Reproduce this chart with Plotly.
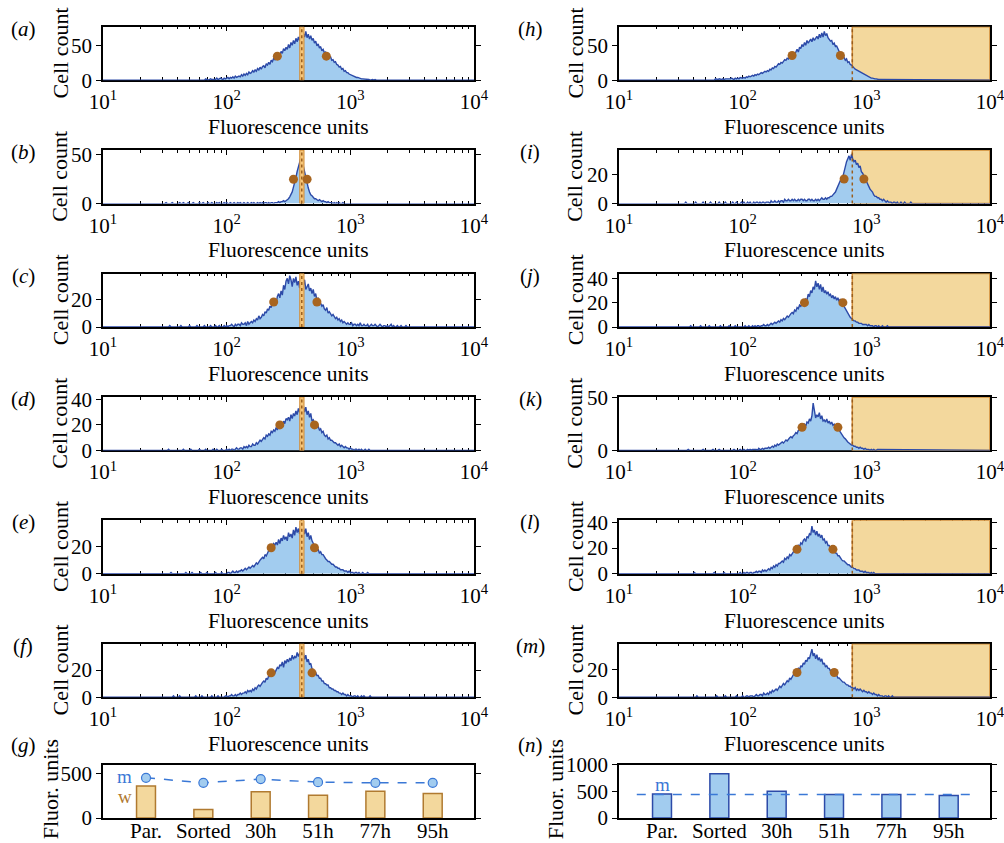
import plotly.graph_objects as go

FONT = "Liberation Serif"
W, H = 1004, 843

# ---------------- data ----------------
HIST_START = 1.5   # log10 of first bin
HIST_STEP = 0.01   # bin width in decades (each row below = 0.1 decade)

hist_a = [0,0,1,0,0,0,1,0,0,0, 1,0,0,1,0,0,0,1,0,1, 0,1,0,0,1,1,0,0,1,0,
          1,1,0,2,1,0,1,2,1,1, 2,1,3,1,2,3,2,1,3,2, 3,4,2,4,3,5,3,6,4,5,
          6,5,8,6,9,7,10,8,12,10, 11,14,12,15,13,17,15,19,16,20,
          21,18,24,22,26,23,29,27,32,30, 35,33,38,36,42,39,46,43,48,45,
          52,47,55,51,58,53,61,56,63,58, 66,60,68,63,71,62,67,60,65,58,
          61,54,57,50,53,47,49,43,45,40, 41,36,38,33,34,29,30,26,27,23,
          22,19,20,16,17,13,14,11,11,9, 8,7,7,5,5,4,4,3,3,2,
          2,2,1,2,1,1,0,1,1,0, 1,0,0,1,0,0,1,0,0,0]
hist_b = [0,1,0,0,0,0,1,0,0,0, 0,0,1,0,0,1,0,0,0,1, 0,0,0,1,0,0,0,0,1,0,
          0,1,0,0,0,1,0,0,1,0, 0,0,1,0,1,0,0,0,1,0, 1,0,0,1,0,0,1,0,0,1,
          0,1,0,0,1,0,0,1,0,0, 1,0,1,0,0,1,0,1,0,1, 0,1,1,0,1,0,1,1,0,1,
          1,1,2,1,2,2,3,2,3,4, 5,7,9,12,17,21,27,33,38,42,
          47,44,38,31,27,22,16,12,9,8, 6,5,5,4,3,4,3,2,3,2,
          2,1,2,1,1,1,0,1,0,1, 0,1,0,0,1,0,0,0,0,0]
hist_c = [0,0,0,0,1,0,0,0,0,0, 0,0,0,1,0,0,0,0,0,0, 1,0,0,0,0,0,1,0,0,0,
          0,0,1,0,0,0,0,1,0,0, 0,1,0,0,1,0,0,0,1,0, 1,0,1,1,2,1,0,2,1,2,
          2,1,3,2,2,3,1,4,2,3, 4,3,5,4,6,5,8,6,7,9,
          8,11,10,13,12,15,14,18,16,20, 17,22,24,21,26,23,30,27,33,35,
          31,37,34,29,35,32,36,30,33,28, 37,33,30,34,27,29,31,26,28,24,
          27,22,24,19,21,18,17,15,16,13, 12,14,10,11,9,8,9,7,6,7,
          5,6,4,5,3,4,3,2,3,2, 2,3,1,2,2,1,2,1,3,1,
          1,2,1,1,2,0,1,2,1,1, 2,1,0,1,2,1,0,1,1,0,
          1,0,1,2,0,1,0,0,1,0, 0,1,0,0,0,1,0,0,0,0]
hist_d = [0,0,0,1,0,0,0,0,0,0, 0,0,0,0,0,1,0,0,0,0, 0,1,0,0,0,0,0,0,1,0,
          0,0,0,1,0,0,0,0,0,1, 0,0,1,0,0,0,1,0,0,0, 1,0,1,0,1,1,0,1,2,1,
          1,2,2,1,3,2,3,2,4,3, 3,5,4,4,6,5,7,8,7,9,
          10,9,12,11,13,12,15,14,16,15, 18,16,20,19,22,18,23,21,25,24,
          26,23,28,25,29,27,31,28,33,30, 37,32,35,30,34,28,31,26,29,23,
          24,21,20,18,19,16,17,14,15,12, 11,12,9,10,8,8,7,6,6,5,
          4,5,3,4,3,2,3,2,2,1, 2,1,1,0,1,1,0,1,0,1,
          0,0,1,0,0,1,0,0,0,0]
hist_e = [0,0,0,0,0,1,0,0,0,0, 0,0,0,0,0,0,0,1,0,0, 0,0,1,0,0,0,0,0,0,1,
          0,0,0,0,1,0,0,0,0,0, 0,1,0,0,0,0,1,0,0,0, 0,1,1,0,1,2,1,1,2,1,
          2,2,3,2,3,4,3,4,5,4, 5,6,5,7,8,7,9,10,11,12,
          11,14,13,15,17,19,18,20,22,21, 23,21,25,22,26,24,28,25,27,24,
          30,27,29,26,32,28,34,30,33,29, 36,32,34,29,33,27,30,25,28,24,
          22,20,19,17,18,15,16,14,14,12, 11,10,9,9,8,7,7,6,5,5,
          4,4,3,3,3,2,2,2,1,2, 1,1,1,0,1,1,0,1,0,0,
          1,0,0,0,1,0,0,0,0,0]
hist_f = [0,0,0,0,0,0,0,1,0,0, 0,0,1,0,0,0,0,0,0,0, 0,0,0,0,0,1,0,0,0,0,
          1,0,0,0,0,0,0,0,1,0, 0,0,0,1,0,0,0,0,0,1, 1,0,1,1,2,1,1,2,1,2,
          2,3,2,3,3,4,3,5,4,5, 4,6,5,7,6,8,9,8,10,11,
          12,11,14,13,16,15,18,17,19,18, 20,22,21,24,23,26,22,27,25,28,
          26,29,27,31,28,30,29,33,30,32, 35,30,33,28,31,26,28,24,25,21,
          20,18,18,16,16,14,14,12,12,10, 10,9,9,7,7,6,6,5,5,4,
          4,3,3,2,3,2,2,1,2,1, 1,1,0,1,1,0,1,0,0,1,
          0,1,0,0,0,0,1,0,0,0]
hist_h = [0,1,0,0,0,1,0,0,1,0, 0,0,1,0,1,0,0,1,0,1, 1,0,1,1,0,1,1,0,2,1,
          1,2,1,1,2,1,2,2,1,2, 2,3,2,1,3,2,3,2,4,3, 3,4,3,5,4,6,5,6,7,6,
          8,7,9,8,10,11,10,12,13,12, 14,13,16,15,18,17,20,19,22,24,
          23,26,25,28,30,29,32,31,34,33, 36,39,37,42,45,41,48,46,52,49,
          55,51,58,54,57,60,56,62,58,61, 64,60,67,62,69,63,71,65,68,62,
          60,57,58,52,54,49,50,46,44,40, 34,37,33,29,31,26,27,23,22,19,
          18,16,15,13,12,11,10,9,8,7, 6,5,5,4,3,3,2,2,2,1,
          1,1,1,0,1,1,0,0,1,0, 0,1,0,0,0,1,0,0,0,0]
hist_i = [0,0,0,0,1,0,0,0,0,0, 0,0,1,0,0,0,0,0,1,0, 0,0,0,0,1,0,0,0,0,0,
          0,1,0,0,0,0,1,0,0,0, 0,0,1,0,0,1,0,0,0,1, 0,1,0,0,1,0,1,0,0,1,
          0,1,1,0,1,0,1,1,0,1, 1,1,0,2,1,1,2,1,1,2,
          1,2,2,1,3,2,2,3,2,2, 3,2,3,2,2,3,2,3,3,2,
          3,2,2,3,3,2,3,2,2,3, 2,3,2,3,4,3,3,4,3,4,
          4,5,5,6,7,8,10,12,14,16, 15,19,22,26,29,31,33,30,34,31,
          29,30,27,28,25,26,22,21,19,17, 16,13,12,10,9,8,6,5,5,4,
          4,3,3,2,3,2,1,2,1,1, 1,0,1,1,0,1,0,0,1,0,
          0,1,0,0,0,0,1,0,0,0]
hist_j = [0,0,0,0,0,0,0,0,1,0, 0,0,0,0,0,0,1,0,0,0, 0,0,0,1,0,0,0,0,0,0,
          0,0,1,0,0,0,0,0,0,1, 0,0,0,0,1,0,0,0,0,0, 0,0,1,0,0,1,0,0,1,0,
          1,0,1,1,0,1,1,2,1,1, 2,1,2,3,2,3,4,3,4,5,
          4,6,5,7,6,8,9,8,10,11, 12,11,14,13,16,15,18,17,19,18,
          20,23,22,27,25,30,28,33,31,38, 33,36,31,35,29,33,28,30,27,29,
          26,27,24,26,23,25,22,24,21,23, 20,19,17,15,13,11,10,8,7,6,
          5,5,4,4,3,3,3,2,2,2, 2,1,2,1,1,1,0,1,1,0,
          1,0,0,1,0,0,0,1,0,0]
hist_k = [0,0,0,0,0,0,1,0,0,0, 0,0,0,0,0,0,0,0,1,0, 0,0,0,0,0,0,1,0,0,0,
          0,1,0,0,0,0,0,0,0,0, 0,0,0,1,0,0,0,0,1,0, 0,1,0,0,1,0,1,0,1,1,
          1,1,0,2,1,1,2,1,2,2, 2,3,2,3,4,3,5,4,6,5,
          6,7,8,7,9,10,9,11,12,13, 12,14,15,17,16,19,20,22,21,24,
          25,23,27,26,30,28,33,45,38,31, 34,32,36,30,33,28,29,27,30,26,
          28,25,27,24,25,22,23,21,20,18, 16,14,12,11,9,8,7,6,5,5,
          4,4,3,3,2,3,2,2,1,2, 1,1,1,0,1,0,1,0,0,1]
hist_l = [0,0,0,0,0,0,0,0,0,0, 0,1,0,0,0,0,0,0,0,0, 0,0,0,0,0,0,0,1,0,0,
          0,0,0,0,0,1,0,0,0,0, 0,0,0,0,0,0,0,0,1,0, 0,1,0,1,1,0,1,1,0,1,
          1,2,1,2,2,1,3,2,3,2, 3,4,3,5,4,6,5,7,6,8,
          8,9,10,9,12,11,13,12,15,14, 16,17,18,20,19,22,21,24,23,26,
          27,25,29,28,31,30,37,32,34,30, 33,29,31,28,30,26,27,24,25,22,
          22,20,21,18,18,16,16,14,14,12, 11,10,10,9,8,7,7,6,5,5,
          4,4,3,3,3,2,2,2,1,2, 1,1,1,0,1,0,1,0,0,0]
hist_m = [0,0,0,0,0,0,0,0,0,0, 0,0,0,1,0,0,0,0,0,0, 0,0,0,0,0,0,0,0,0,1,
          0,0,0,0,0,0,1,0,0,0, 0,0,0,0,0,1,0,0,0,0, 1,0,0,1,1,0,1,1,1,0,
          1,2,1,1,2,2,1,3,2,2, 3,2,4,3,5,4,5,6,5,7,
          8,7,9,10,9,11,12,11,14,13, 15,16,18,17,19,21,20,23,22,25,
          24,27,26,29,28,31,35,30,32,28, 31,27,29,26,28,24,25,22,23,21,
          21,19,20,17,18,16,16,14,14,13, 12,11,11,10,9,9,8,8,7,7,
          6,7,5,6,5,6,5,4,5,4, 4,3,4,3,3,2,3,2,2,1,
          2,1,1,1,0,1,1,0,1,0, 0,1,0,0,0,0,0,0,0,0]

left_letters = ["a", "b", "c", "d", "e", "f"]
right_letters = ["h", "i", "j", "k", "l", "m"]
left_hists = [hist_a, hist_b, hist_c, hist_d, hist_e, hist_f]
right_hists = [hist_h, hist_i, hist_j, hist_k, hist_l, hist_m]

left_ymax = [78, 55, 38.5, 42, 39, 39.5]
right_ymax = [78, 37, 44, 51, 41.5, 39]
left_yticks = [[0, 50], [0, 50], [0, 20], [0, 20, 40], [0, 20], [0, 20]]
right_yticks = [[0, 50], [0, 20], [0, 20, 40], [0, 50], [0, 20, 40], [0, 20]]

# half-maximum markers (fluorescence units) and their height
left_half_lo = [257, 347, 240, 269, 229, 229]
left_half_hi = [640, 447, 537, 513, 513, 490]
left_half_y = [35, 25, 18, 20, 19, 18]
right_half_lo = [251, 661, 316, 302, 275, 275]
right_half_hi = [617, 955, 646, 589, 537, 550]
right_half_y = [36, 17, 20, 22, 19, 18]

median_val = 405
median_lo, median_hi = 390, 422
gate_lo, gate_hi = 770, 10000

categories = ["Par.", "Sorted", "30h", "51h", "77h", "95h"]
g_width = [360, 94, 293, 256, 301, 274]
g_mean = [451, 395, 436, 402, 395, 395]
n_mean = [450, 825, 500, 438, 438, 419]
n_ref = 438

x_major = [10, 100, 1000, 10000]
x_major_text = ["10<sup>1</sup>", "10<sup>2</sup>", "10<sup>3</sup>", "10<sup>4</sup>"]
x_minor = [m * 10 ** k for k in (1, 2, 3) for m in range(2, 10)]

# ---------------- styling ----------------
LINE_BLUE = "#2c4aa8"
FILL_BLUE = "#a2ccef"
ORANGE_FILL = "#f3d89d"
ORANGE_LINE = "#d08a35"
BAR_FILL = "#f6c77c"
BROWN = "#9a5d1c"
DOT = "#a8651f"
M_BLUE = "#3a78d6"

LEFT = (103, 474)
RIGHT = (619, 990)
ROW_TOP = [26.7 + 123.4 * i for i in range(6)]
PH = 53.5
G_TOP, G_BOT = 764.5, 818

fig = go.Figure()
layout = {}
annotations = []


def px_x(v):
    return v / W


def px_y(v):
    return 1 - v / H


def tickfont():
    return dict(family=FONT, size=21, color="black")


def ann(text, x, y, size=22, color="black", angle=0, xref="paper", yref="paper"):
    annotations.append(dict(text=text, x=x, y=y, xref=xref, yref=yref, showarrow=False,
                            xanchor="center", yanchor="middle", textangle=angle,
                            font=dict(family=FONT, size=size, color=color)))


def hist_axes(n, xr, top, ymax, yticks):
    xn = "xaxis" if n == 1 else f"xaxis{n}"
    yn = "yaxis" if n == 1 else f"yaxis{n}"
    ya = "y" if n == 1 else f"y{n}"
    xa = "x" if n == 1 else f"x{n}"
    layout[xn] = dict(domain=[px_x(xr[0]), px_x(xr[1])], anchor=ya, type="log",
                      range=[1, 4], tickmode="array", tickvals=x_major, ticktext=x_major_text,
                      ticks="inside", ticklen=5, tickwidth=1, tickcolor="black",
                      minor=dict(tickmode="array", tickvals=x_minor, ticks="inside",
                                 ticklen=3, tickcolor="black", showgrid=False),
                      showline=True, linecolor="black", linewidth=1.5, mirror="allticks",
                      showgrid=False, zeroline=False, tickfont=tickfont(),
                      ticklabeloverflow="allow", ticklabelstandoff=2,
                      layer="below traces", automargin=False)
    layout[yn] = dict(domain=[px_y(top + PH), px_y(top)], anchor=xa, range=[0, ymax],
                      tickmode="array", tickvals=yticks, ticks="outside", ticklen=5,
                      tickcolor="black", showline=True, linecolor="black", linewidth=1.5,
                      mirror="ticks", showgrid=False, zeroline=False, tickfont=tickfont(),
                      layer="below traces", automargin=False)
    return xa, ya


def hist_trace(hist, xa, ya):
    xs = [10.0] + [10 ** (HIST_START + HIST_STEP * i) for i in range(len(hist))] + [10000.0]
    ys = [0] + list(hist) + [0]
    fig.add_trace(go.Scatter(x=xs, y=ys, xaxis=xa, yaxis=ya, mode="lines",
                             line=dict(color=LINE_BLUE, width=1.4), fill="tozeroy",
                             fillcolor=FILL_BLUE, hoverinfo="skip"))


def half_dots(lo, hi, yv, xa, ya):
    fig.add_trace(go.Scatter(x=[lo, hi], y=[yv, yv], xaxis=xa, yaxis=ya, mode="markers",
                             marker=dict(size=9, color=DOT), hoverinfo="skip"))


n = 0
# left column histograms
for r in range(6):
    n += 1
    xa, ya = hist_axes(n, LEFT, ROW_TOP[r], left_ymax[r], left_yticks[r])
    hist_trace(left_hists[r], xa, ya)
    ym = left_ymax[r]
    fig.add_trace(go.Scatter(x=[median_lo, median_hi, median_hi, median_lo, median_lo],
                             y=[0, 0, ym, ym, 0], xaxis=xa, yaxis=ya, mode="lines",
                             fill="toself", fillcolor=BAR_FILL,
                             line=dict(color=ORANGE_LINE, width=1), hoverinfo="skip"))
    fig.add_trace(go.Scatter(x=[median_val, median_val], y=[0, ym], xaxis=xa, yaxis=ya,
                             mode="lines", line=dict(color=BROWN, width=1.5, dash="dot"),
                             hoverinfo="skip"))
    half_dots(left_half_lo[r], left_half_hi[r], left_half_y[r], xa, ya)
    cx = (LEFT[0] + LEFT[1]) / 2
    ann("Fluorescence units", px_x(cx), px_y(127 + 123.4 * r), size=21.5)
    ann("Cell count", px_x(60), px_y(ROW_TOP[r] + PH / 2), angle=-90)
    ann(f"(<i>{left_letters[r]}</i>)", px_x(23), px_y(ROW_TOP[r] + 2), size=21)

# right column histograms
for r in range(6):
    n += 1
    xa, ya = hist_axes(n, RIGHT, ROW_TOP[r], right_ymax[r], right_yticks[r])
    ym = right_ymax[r]
    fig.add_trace(go.Scatter(x=[gate_lo, gate_hi, gate_hi, gate_lo, gate_lo],
                             y=[0, 0, ym, ym, 0], xaxis=xa, yaxis=ya, mode="lines",
                             fill="toself", fillcolor=ORANGE_FILL,
                             line=dict(color=ORANGE_LINE, width=1.5), hoverinfo="skip"))
    hist_trace(right_hists[r], xa, ya)
    fig.add_trace(go.Scatter(x=[gate_lo, gate_lo], y=[0, ym], xaxis=xa, yaxis=ya,
                             mode="lines", line=dict(color=BROWN, width=1.5, dash="dot"),
                             hoverinfo="skip"))
    half_dots(right_half_lo[r], right_half_hi[r], right_half_y[r], xa, ya)
    cx = (RIGHT[0] + RIGHT[1]) / 2
    ann("Fluorescence units", px_x(cx), px_y(127 + 123.4 * r), size=21.5)
    ann("Cell count", px_x(575), px_y(ROW_TOP[r] + PH / 2), angle=-90)
    ann(f"(<i>{right_letters[r]}</i>)", px_x(530), px_y(ROW_TOP[r] + 2), size=21)


def bar_axes(n, xr, ymax, yticks):
    xn, yn = f"xaxis{n}", f"yaxis{n}"
    xa, ya = f"x{n}", f"y{n}"
    layout[xn] = dict(domain=[px_x(xr[0]), px_x(xr[1])], anchor=ya, range=[0.25, 6.72],
                      tickmode="array", tickvals=list(range(1, 7)), ticktext=categories,
                      ticks="", showline=True, linecolor="black", linewidth=1.5,
                      mirror=True, showgrid=False, zeroline=False, tickfont=tickfont(),
                      ticklabelstandoff=-7, ticklabeloverflow="allow", automargin=False)
    layout[yn] = dict(domain=[px_y(G_BOT), px_y(G_TOP)], anchor=xa, range=[0, ymax],
                      tickmode="array", tickvals=yticks, ticks="outside", ticklen=5,
                      tickcolor="black", showline=True, linecolor="black", linewidth=1.5,
                      mirror="ticks", showgrid=False, zeroline=False, tickfont=tickfont(),
                      automargin=False)
    return xa, ya


cat_x = list(range(1, 7))

# (g)
n += 1
xa, ya = bar_axes(n, LEFT, 600, [0, 500])
fig.add_trace(go.Bar(x=cat_x, y=g_width, xaxis=xa, yaxis=ya, width=0.33,
                     marker=dict(color=ORANGE_FILL, line=dict(color="#b07a30", width=1.5)),
                     hoverinfo="skip"))
fig.add_trace(go.Scatter(x=cat_x, y=g_mean, xaxis=xa, yaxis=ya, mode="lines+markers",
                         line=dict(color=M_BLUE, width=1.5, dash="dash"),
                         marker=dict(size=9, color=FILL_BLUE, line=dict(color=M_BLUE, width=1.2)),
                         hoverinfo="skip"))
ann("m", 0.63, 462, size=19, color=M_BLUE, xref=xa, yref=ya)
ann("w", 0.63, 245, size=19, color="#b07a30", xref=xa, yref=ya)
ann("Fluor. units", px_x(50), px_y((G_TOP + G_BOT) / 2 - 2), angle=-90)
ann("(<i>g</i>)", px_x(23), px_y(745), size=21)

# (n)
n += 1
xa, ya = bar_axes(n, RIGHT, 1000, [0, 500, 1000])
fig.add_trace(go.Bar(x=cat_x, y=n_mean, xaxis=xa, yaxis=ya, width=0.33,
                     marker=dict(color=FILL_BLUE, line=dict(color=LINE_BLUE, width=1.5)),
                     hoverinfo="skip"))
fig.add_trace(go.Scatter(x=[cat_x[0] - 0.44, cat_x[-1] + 0.46], y=[n_ref, n_ref],
                         xaxis=xa, yaxis=ya, mode="lines",
                         line=dict(color=M_BLUE, width=1.5, dash="dash"), hoverinfo="skip"))
ann("m", cat_x[0], 625, size=19, color=M_BLUE, xref=xa, yref=ya)
ann("Fluor. units", px_x(555), px_y((G_TOP + G_BOT) / 2 - 2), angle=-90)
ann("(<i>n</i>)", px_x(530), px_y(745), size=21)

fig.update_layout(**layout)
fig.update_layout(width=W, height=H,
                  margin=dict(l=0, r=0, t=0, b=0, pad=0, autoexpand=False),
                  paper_bgcolor="white", plot_bgcolor="white", showlegend=False,
                  annotations=annotations, font=dict(family=FONT, size=21, color="black"))

fig.write_html("out.html")
